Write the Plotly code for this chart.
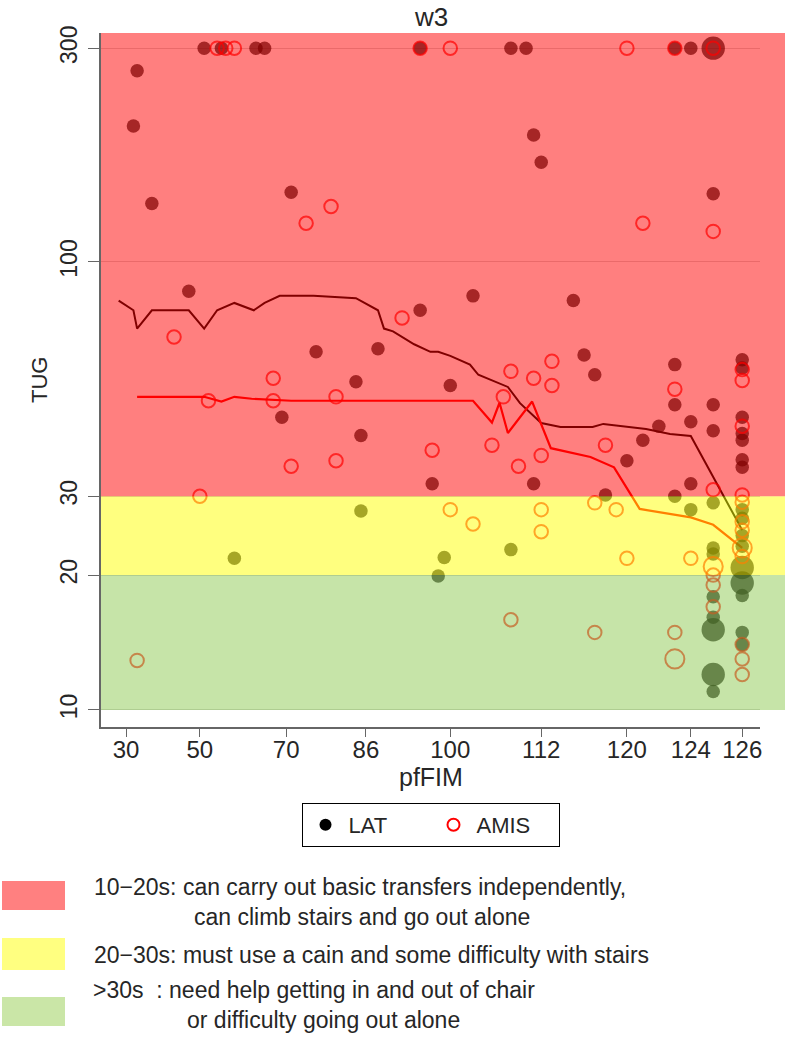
import numpy as np
import plotly.graph_objects as go

# ---------------- data ----------------
# rank-like pfFIM axis: knot values and their relative axis positions
FIM_KNOTS = [30, 50, 70, 86, 100, 112, 120, 124, 125, 126]
FIM_POS = [0.038, 0.150, 0.281, 0.402, 0.530, 0.668, 0.798, 0.895, 0.929, 0.973]
X_TICKS = [30, 50, 70, 86, 100, 112, 120, 124, 126]
Y_TICKS = [10, 20, 30, 100, 300]

lat_fim = [33, 32, 37, 47, 51, 55, 63, 65, 71, 76, 88, 84, 69, 85, 95, 95, 103, 108, 110, 111,
           112, 115, 116, 117, 100, 97, 111, 120, 121, 122, 123, 123, 123, 124, 124, 124, 125, 125, 125, 125,
           85, 58, 99, 98, 108, 118, 123, 124, 125,
           125, 125, 125, 125, 125, 125, 125,
           126, 126, 126, 126, 126, 126, 126, 126, 126, 126, 126, 126, 126, 126, 126, 126]
lat_tug = [267, 201, 135, 86, 300, 300, 300, 300, 143, 63, 64, 54, 45, 41, 78, 300, 84, 300, 300, 192,
           167, 82, 62, 56, 53, 32, 32, 36, 40, 43, 59, 48, 300, 44, 32, 300, 300, 142, 48, 42,
           27.8, 21.8, 21.9, 19.9, 22.8, 30.2, 30, 28, 29,
           23.0, 22.3, 17.9, 16.1, 15.1, 12.0, 11.0,
           60.5, 58, 45, 41.4, 40, 36.2, 34.8, 28, 26.8, 24.5, 23.2, 20.8, 19.2, 18, 14.9, 14.0]
lat_n = [1, 1, 1, 1, 1, 1, 1, 1, 1, 1, 1, 1, 1, 1, 1, 1, 1, 1, 1, 1,
         1, 1, 1, 1, 1, 1, 1, 1, 1, 1, 1, 1, 1, 1, 1, 1, 3, 1, 1, 1,
         1, 1, 1, 1, 1, 1, 1, 1, 1,
         1, 1, 1, 1, 3, 3, 1,
         1, 1, 1, 1, 1, 1, 1, 1, 1, 1, 1, 3, 3, 1, 1, 1]

amis_fim = [54, 56, 58, 95, 100, 120, 123, 125, 79, 74, 121, 125,
            43, 67, 52, 67, 80, 71, 80, 50, 92,
            113, 108, 111, 113, 107, 123, 118, 97, 105.5, 112, 109, 125,
            126, 126, 126,
            100, 103, 112, 112, 108, 117, 119, 120, 117, 124, 123, 123, 33,
            125, 125, 125, 125,
            126, 126, 126, 126, 126, 126, 126, 126, 126]
amis_tug = [300, 300, 300, 300, 300, 300, 300, 300, 133, 122, 122, 117,
            68, 55, 49, 49, 50, 35, 36, 30, 75,
            60, 57, 55, 53, 50, 52, 39, 38, 39, 37, 35, 31,
            57.5, 54.4, 43,
            28, 26, 28, 25, 15.9, 29, 28, 21.8, 14.9, 21.8, 14.9, 13.0, 12.9,
            20.9, 20.0, 19.0, 17.0,
            30.2, 29.1, 26.3, 25.2, 23.0, 22.0, 14.0, 13.0, 12.0]
amis_n = [1, 1, 1, 1, 1, 1, 1, 1, 1, 1, 1, 1,
          1, 1, 1, 1, 1, 1, 1, 1, 1,
          1, 1, 1, 1, 1, 1, 1, 1, 1, 1, 1, 1,
          1, 1, 1,
          1, 1, 1, 1, 1, 1, 1, 1, 1, 1, 1, 2, 1,
          2, 1, 1, 1,
          1, 1, 1, 1, 2, 1, 1, 1, 1]

lat_line_fim = [28, 32, 33, 37, 47, 51, 54, 58, 62.5, 65, 68.5, 75.5, 84, 88, 89, 90.5, 94, 96.7, 98,
                100, 102.6, 103.7, 107.6, 109.2, 112, 113.8, 116.8, 117.8, 121.2, 122.7, 124, 126]
lat_line_tug = [82, 78, 71, 78, 78, 71, 78, 81, 78, 81, 84, 84, 83, 78, 71, 70, 65.5, 63, 63,
                61.7, 59, 56, 52.6, 48.4, 43.7, 42.8, 42.8, 43.5, 42.4, 41.3, 40.9, 25.2]
amis_line_fim = [33, 51, 55, 58, 62, 71, 103, 105.5, 106.5, 107.6, 110.8, 112.9, 116.6, 118.8,
                 120.8, 124, 125, 126]
amis_line_tug = [50, 50, 48.8, 50, 49.5, 49, 49, 43.8, 48.5, 41.5, 48.8, 38.4, 36.7, 34.8,
                 28.1, 26.9, 25.9, 23]

band_labels = [
    ("10\u221220s: can carry out basic transfers independently,", "can climb stairs and go out alone"),
    ("20\u221230s: must use a cain and some difficulty with stairs", None),
    (">30s  : need help getting in and out of chair", "or difficulty going out alone"),
]

# ---------------- helpers ----------------
def fim_pos(v):
    v = np.asarray(v, dtype=float)
    p = np.interp(v, FIM_KNOTS, FIM_POS)
    slope = (FIM_POS[1] - FIM_POS[0]) / (FIM_KNOTS[1] - FIM_KNOTS[0])
    lo = v < FIM_KNOTS[0]
    p[lo] = FIM_POS[0] + (v[lo] - FIM_KNOTS[0]) * slope
    return p

W, H = 787, 1037
ML, MT = 101, 33
MR = W - 760
MB = H - 727
PW, PH = W - ML - MR, H - MT - MB

def px_x(px):                 # page pixel -> paper x
    return (px - ML) / PW

def px_y(py):                 # page pixel -> paper y
    return (H - MB - py) / PH

FONT = "Liberation Sans, Arial, sans-serif"
TXT = "#262626"
BASE = 13.5

fig = go.Figure()
fig.add_trace(go.Scatter(x=fim_pos(lat_line_fim), y=lat_line_tug, mode="lines",
                         line=dict(color="black", width=2), showlegend=False, hoverinfo="skip"))
fig.add_trace(go.Scatter(x=fim_pos(amis_line_fim), y=amis_line_tug, mode="lines",
                         line=dict(color="red", width=2.2), showlegend=False, hoverinfo="skip"))
fig.add_trace(go.Scatter(x=fim_pos(lat_fim), y=lat_tug, mode="markers",
                         marker=dict(symbol="circle", color="black",
                                     size=list(BASE * np.sqrt(lat_n)), line=dict(width=0)),
                         showlegend=False))
fig.add_trace(go.Scatter(x=fim_pos(amis_fim), y=amis_tug, mode="markers",
                         marker=dict(symbol="circle-open", color="red",
                                     size=list(BASE * np.sqrt(amis_n)), line=dict(width=2)),
                         showlegend=False))
# legend entries
fig.add_trace(go.Scatter(x=[None], y=[None], mode="markers", name="LAT",
                         marker=dict(symbol="circle", color="black", size=12)))
fig.add_trace(go.Scatter(x=[None], y=[None], mode="markers", name="AMIS",
                         marker=dict(symbol="circle-open", color="red", size=12, line=dict(width=2))))

Y_RANGE = [0.962, 2.511]
bands = [(10, 20, "rgba(135,198,73,0.48)"), (20, 30, "rgba(255,255,0,0.5)"),
         (30, 10 ** Y_RANGE[1], "rgba(255,0,0,0.5)")]
for y0, y1, c in bands:
    fig.add_shape(type="rect", xref="paper", yref="y", x0=0, x1=px_x(785), y0=y0, y1=y1,
                  fillcolor=c, line=dict(width=0), layer="above")

# bottom key
key_boxes = [(881, 910, "#ff8080"), (938, 970, "#ffff80"), (997, 1026, "rgb(202,230,167)")]
for y0, y1, c in key_boxes:
    fig.add_shape(type="rect", xref="paper", yref="paper", x0=px_x(2), x1=px_x(65),
                  y0=px_y(y1), y1=px_y(y0), fillcolor=c, line=dict(width=0))

key_lines = [(92, 887, band_labels[0][0]), (192, 917, band_labels[0][1]),
             (92, 955, band_labels[1][0]),
             (91, 990, band_labels[2][0]), (185, 1020, band_labels[2][1])]
for x, y, t in key_lines:
    fig.add_annotation(xref="paper", yref="paper", x=px_x(x), y=px_y(y), text=t, showarrow=False,
                       xanchor="left", yanchor="middle", font=dict(family=FONT, size=23, color=TXT))

fig.add_annotation(xref="paper", yref="paper", x=0.5, y=px_y(0), text="w3", showarrow=False,
                   xanchor="center", yanchor="top", font=dict(family=FONT, size=26, color=TXT))
fig.add_annotation(xref="paper", yref="paper", x=px_x(39), y=0.5, text="TUG", showarrow=False,
                   textangle=-90, xanchor="center", yanchor="middle",
                   font=dict(family=FONT, size=22, color=TXT))
fig.add_annotation(xref="paper", yref="paper", x=0.5, y=px_y(777), text="pfFIM", showarrow=False,
                   xanchor="center", yanchor="middle", font=dict(family=FONT, size=25, color=TXT))

fig.update_layout(
    width=W, height=H, margin=dict(l=ML, r=MR, t=MT, b=MB, pad=0),
    paper_bgcolor="white", plot_bgcolor="white",
    font=dict(family=FONT, color=TXT),
    showlegend=True,
    legend=dict(orientation="h", x=0.5, xanchor="center", y=px_y(803), yanchor="top",
                bordercolor="black", borderwidth=1, bgcolor="white",
                itemwidth=36, entrywidth=77,
                font=dict(family=FONT, size=22, color=TXT), itemsizing="constant"),
    xaxis=dict(range=[0, 1], tickvals=list(fim_pos(X_TICKS)), ticktext=[str(v) for v in X_TICKS],
               ticks="outside", ticklen=8, tickcolor="#666", showline=True, linecolor="#666",
               linewidth=1.5, showgrid=False, zeroline=False, ticklabelstandoff=-8,
               tickfont=dict(family=FONT, size=24, color=TXT)),
    yaxis=dict(type="log", range=Y_RANGE, tickvals=Y_TICKS, ticktext=[str(v) for v in Y_TICKS],
               tickangle=-90, ticks="outside", ticklen=11, tickcolor="#666", showline=True,
               linecolor="#666", linewidth=1.5, showgrid=True, gridcolor="#d4d4d4", zeroline=False,
               ticklabelstandoff=2,
               tickfont=dict(family=FONT, size=23, color=TXT)),
)

fig.write_html("out.html", config={"displayModeBar": False},
               post_script="document.body.style.margin='0px';")
